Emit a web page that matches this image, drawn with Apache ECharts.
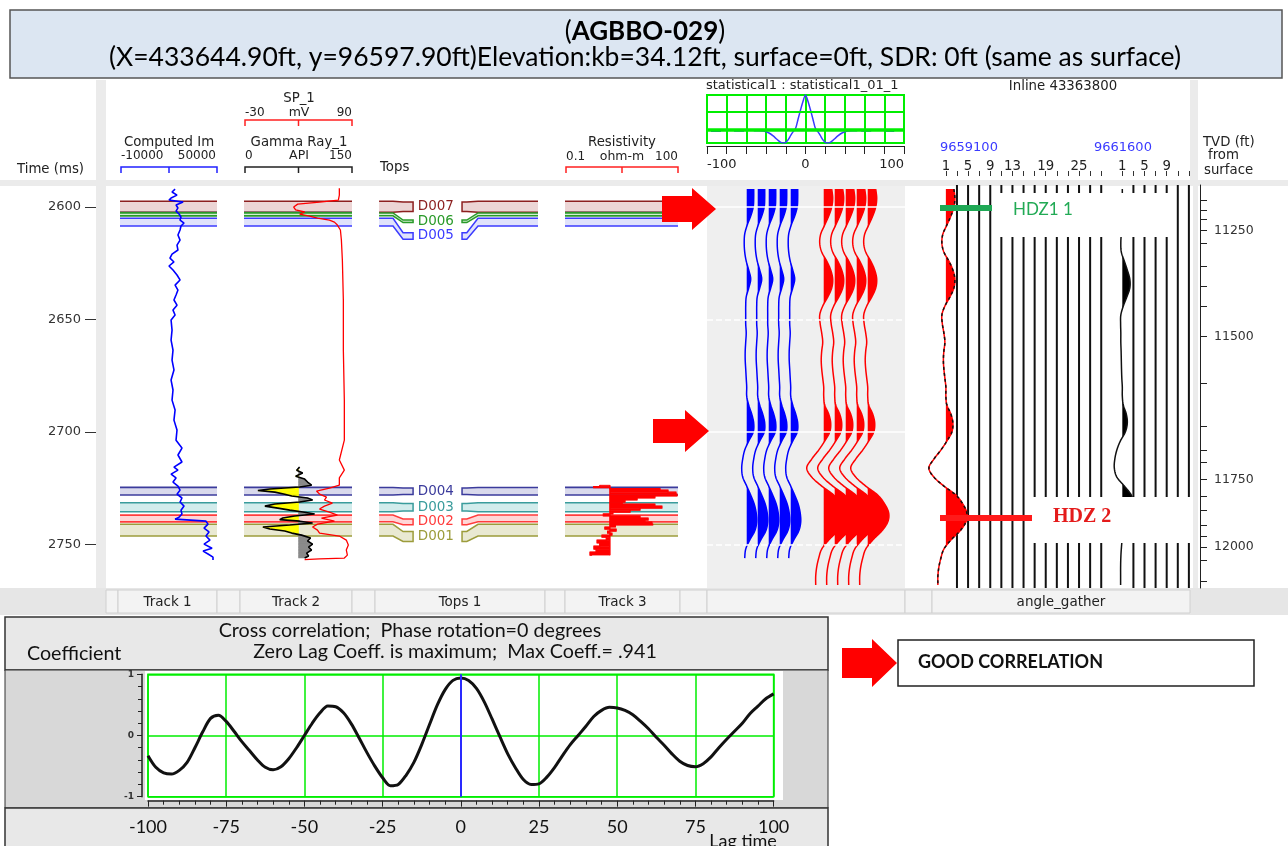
<!DOCTYPE html>
<html><head><meta charset="utf-8">
<script src="https://cdn.jsdelivr.net/npm/echarts@6.0.0/dist/echarts.min.js"></script>
<style>html,body{margin:0;padding:0;background:#fff;}#chart{width:1288px;height:846px;}</style>
</head><body><div id="chart"></div>
<script>
// ================= DATA =================
const timeLabels = [2600, 2650, 2700, 2750];

const tvdDepth = [11100,11150,11200,11250,11300,11350,11400,11450,11500,11550,11600,11650,11700,11750,11800,11850,11900,11950,12000,12050,12100];
const tvdTime  = [2596.9,2601.3,2605.5,2610.5,2616.1,2626.2,2635.4,2643.9,2657.6,2678.4,2697.6,2708.0,2713.2,2721.0,2728.4,2734.7,2741.6,2746.1,2751.0,2756.9,2766.5];

const topsNames = ['D007','D006','D005','D004','D003','D002','D001'];
const topsTop   = [2597.4,2602.6,2605.0,2724.6,2731.4,2736.9,2741.0];
const topsBase  = [2602.3,2603.9,2608.4,2728.0,2735.4,2739.9,2746.2];

const impTime = [2592.0,2593.3,2594.7,2596.0,2596.9,2597.8,2598.2,2599.1,2600.4,2601.8,
  2603.1,2604.4,2605.8,2607.1,2608.4,2610.2,2612.4,2614.7,2616.9,2619.1,
  2620.9,2622.7,2624.4,2626.2,2628.0,2630.2,2632.4,2634.7,2636.9,2639.1,
  2641.3,2643.6,2645.8,2648.0,2650.2,2654.7,2659.1,2663.6,2668.0,2672.4,
  2676.9,2681.3,2685.8,2690.2,2694.7,2699.1,2703.6,2707.1,2710.2,
  2713.3,2715.6,2716.9,2718.7,2720.4,2722.2,2724.0,2725.8,2727.6,2729.3,
  2731.1,2732.9,2734.7,2736.4,2737.8,2738.7,2739.1,2739.6,2740.9,2742.7,
  2744.4,2746.2,2748.0,2749.8,2751.6,2752.9,2754.2,2755.6,2756.9];
const impVal = [23800,21900,25000,21300,20000,28800,30000,24400,25600,24400,
  26300,27500,26900,29400,27500,26900,25600,26900,25000,25600,
  21900,20600,23100,20000,22500,25000,26900,23800,25600,24400,
  23100,25000,22500,23800,21300,21900,21300,22500,21900,23100,
  21300,22500,21900,23800,23100,25000,24400,28100,25600,
  28100,23100,25600,21300,24400,22500,25600,26900,25000,28100,
  26900,29400,27500,28100,26300,23800,24400,43100,44400,41900,
  45000,43100,45600,41900,46900,41300,44400,47500,47500];

const spTime = [2591.6,2594.7,2596.9,2597.8,2598.7,2600.0,2601.3,2602.2,2603.1,2604.0,
  2604.9,2605.8,2606.7,2608.0,2610.2,2614.7,2623.6,2641.3,2663.6,2685.8,
  2703.6,2712.4,2716.9,2720.4,2723.6,2724.9,2726.2,2727.6,2728.9,2730.2,
  2731.6,2732.9,2734.2,2735.6,2736.9,2738.2,2739.6,2740.9,2742.2,2743.6,
  2744.9,2746.2,2748.0,2750.2,2752.4,2754.7,2756.0,2756.4,2756.7];
const spVal = [75.8,75.8,74.7,53.6,29.1,24.6,26.8,36.9,31.3,42.4,
  51.3,64.7,70.3,73.6,77,78.1,79.2,80.3,80.3,81.4,
  81.4,75.8,81.4,75.8,75.8,64.7,50.2,53.6,61.4,59.1,
  68,59.1,53.6,64.7,73.6,55.8,70.3,51.3,45.8,51.3,
  53.6,75.8,83.6,85.9,83.6,84.8,81.4,53.6,36.9];

const grTime = [2715.6,2717.0,2718.2,2719.6,2720.9,2722.2,2723.6,2724.4,2725.3,2726.0,
  2726.7,2727.6,2728.4,2729.3,2730.2,2731.1,2732.0,2732.9,2733.8,2734.7,
  2735.6,2736.4,2737.3,2738.2,2738.9,2739.6,2740.4,2741.3,2742.2,2743.1,
  2744.0,2744.9,2745.8,2747.1,2748.4,2749.8,2751.1,2752.4,2753.8,2755.1,2756.0];
const grVal = [76.6,72.4,80.8,71,83.6,87.7,93.3,76.6,34.8,18.1,
  41.8,55.7,65.5,87.7,94.7,76.6,41.8,27.9,46,62.7,
  83.6,97.5,69.6,52.9,48.7,76.6,94.7,62.7,25.1,34.8,
  55.7,65.5,79.4,91.9,87.7,94.7,89.1,93.3,86.4,89.1,83.6];
const grShaleBase = 75;

const resTime = [2723.6,2724.2,2724.7,2725.1,2725.8,2726.7,2727.6,2728.4,2729.3,2730.2,
  2731.1,2732.0,2732.9,2733.8,2734.7,2735.6,2736.4,2737.3,2738.2,2739.1,
  2740.0,2740.9,2741.3,2742.2,2743.1,2744.0,2744.9,2745.8,2746.7,2748.0,
  2749.3,2750.7,2752.0,2753.3,2754.7];
const resVal = [0.8,0.55,1.5,33,54,88,94,24,8,3.8,
  3.2,24,37,9.6,5.2,1.8,1.0,9.6,15.8,13,
  20,21,2.1,1.1,2.2,1.3,1.7,0.92,1.2,0.68,
  0.8,0.56,0.64,0.44,0.5];
const resBase = 1.5;

const seisTime = [2592,2596,2600,2604,2608,2612,2616,2620,2624,2628,2632,2636,2640,2644,2648,
  2652,2656,2660,2664,2668,2672,2676,2680,2684,2688,2692,2696,2700,2704,2708,
  2712,2716,2720,2724,2728,2732,2736,2740,2744,2748,2752,2756,2760,2764,2768];
const synthAmp = [0.7,0.7,0.65,0.4,0.05,-0.2,-0.25,-0.2,-0.05,0.2,
  0.4,0.2,-0.05,-0.1,-0.1,-0.1,-0.05,-0.1,-0.15,-0.15,
  -0.1,-0.05,0,0,0.2,0.5,0.7,0.65,0.2,-0.2,
  -0.4,-0.5,-0.4,0,0.4,0.75,0.95,1.0,0.8,0.3,
  -0.1,-0.2,null,null,null];
const seisAmp = [0.8,0.9,0.8,0.5,0.1,-0.3,-0.4,-0.2,0.3,0.7,
  0.9,0.8,0.4,-0.1,-0.4,-0.35,-0.2,-0.1,-0.2,-0.25,
  -0.2,-0.1,0,0,0.1,0.5,0.7,0.6,0.1,-0.5,
  -1.2,-1.7,-1.2,-0.2,1.0,1.7,2.1,2.0,1.4,0.5,
  -0.2,-0.5,-0.7,-0.8,-0.8];
const gatherAmp = [0,0,0,0,0,-0.1,-0.15,-0.1,0.2,0.5,
  0.75,0.75,0.45,0.1,-0.15,-0.17,-0.15,-0.15,-0.12,-0.1,
  -0.08,-0.05,0,0,0.1,0.4,0.5,0.3,-0.2,-0.55,
  -0.75,-0.8,-0.55,0.2,0.9,1.1,1.0,0.7,0.3,0,
  -0.1,-0.15,-0.17,-0.17,-0.17];
const synthTraces = [1,2,3,4,5];
const seisTraces = [8,9,10,11,12];
const gather1Flat = [3,5,7,9,11,13,15,17,19,21,23,25,27,29];
const gather2Flat = [3,5,7,9,11,13];
const gather1Labels = [1,5,9,13,19,25];
const gather2Labels = [1,5,9];

const waveLag = [-52.5,-47.5,-42.5,-37.5,-32.5,-30,-27.5,-25,-22.5,-20,-17.5,-15,-12.5,-10,-7.5,-5,-2.5,0,
  2.5,5,7.5,10,12.5,15,17.5,20,22.5,25,27.5,30,32.5,37.5,42.5,47.5,52.5];
const waveAmp = [-0.04,-0.04,-0.05,-0.1,-0.2,-0.27,-0.33,-0.38,-0.4,-0.38,-0.3,-0.18,-0.07,0.03,0.3,0.57,0.82,1.0,
  0.82,0.57,0.3,0.03,-0.07,-0.18,-0.3,-0.38,-0.4,-0.38,-0.33,-0.27,-0.2,-0.1,-0.05,-0.04,-0.04];
const waveTailLag = [-100,-52.5,52.5,100];
const waveTailAmp = [-0.05,-0.04,-0.04,-0.05];

const ccLag = [-100,-97.5,-95,-92.5,-90,-87.5,-85,-82.5,-80,-77.5,-75,-72.5,-70,-67.5,-65,-62.5,-60,-57.5,-55,-52.5,
  -50,-47.5,-45,-42.5,-40,-37.5,-35,-32.5,-30,-27.5,-25,-22.5,-20,-17.5,-15,-12.5,-10,-7.5,-5,-2.5,
  0,2.5,5,7.5,10,12.5,15,17.5,20,22.5,25,27.5,30,32.5,35,37.5,40,42.5,45,47.5,
  50,52.5,55,57.5,60,62.5,65,67.5,70,72.5,75,77.5,80,82.5,85,87.5,90,92.5,95,97.5,100];
const ccVal = [-0.33,-0.52,-0.61,-0.63,-0.57,-0.44,-0.2,0.06,0.28,0.33,0.23,0.07,-0.1,-0.25,-0.4,-0.52,-0.56,-0.51,-0.38,-0.2,
  0.0,0.2,0.37,0.48,0.47,0.37,0.19,-0.04,-0.28,-0.5,-0.69,-0.82,-0.8,-0.65,-0.44,-0.15,0.18,0.5,0.75,0.9,
  0.94,0.9,0.77,0.55,0.27,-0.02,-0.3,-0.53,-0.72,-0.8,-0.79,-0.68,-0.52,-0.33,-0.15,0.0,0.15,0.31,0.41,0.46,
  0.45,0.41,0.34,0.23,0.11,-0.03,-0.16,-0.3,-0.42,-0.49,-0.51,-0.46,-0.35,-0.2,-0.06,0.07,0.2,0.36,0.48,0.6,0.68];

// ================= STYLE / LAYOUT =================
const T_MIN = 2590.2, T_MAX = 2769.3;
const FS = '"DejaVu Sans", Verdana, sans-serif';
const FL = 'Lato, "Open Sans", sans-serif';
const HF = 13.3, NF = 12;
const topsLine = ['#8c1f1f','#2a9a2a','#3b3bff','#3b3b9c','#3a9c9c','#ff3c3c','#9c9c3b'];
const topsFill = ['#ecd5d5','#d3edd3','#e0e2fb','#d9d9ec','#d2ecec','#ffd6d6','#e9e9d2'];
const GATHER2_OFFSET = 31.8;
const SEIS_GAIN = 0.909, GATHER_GAIN = 1.8;

const topsLabelT = [];
topsNames.forEach((n,i)=>{
  const c = (topsTop[i]+topsBase[i])/2;
  const prev = i>0 && (topsTop[i]-topsBase[i-1] < 30) ? topsLabelT[i-1] + 6.5 : -Infinity;
  topsLabelT.push(Math.max(c, prev));
});

function cr(p0,p1,p2,p3,u){const u2=u*u,u3=u2*u;return 0.5*((2*p1)+(-p0+p2)*u+(2*p0-5*p1+4*p2-p3)*u2+(-p0+3*p1-3*p2+p3)*u3);}

function wiggleRender(times, amps, gain, lineColor, fillColor, lw, overlayDash){
  return function(params, api){
    const base = api.value(0);
    const P = [];
    for (let i=0;i<times.length;i++){ if (amps[i]!=null) P.push([times[i], amps[i]]); }
    const D = [];
    for (let i=0;i<P.length-1;i++){
      const p0=P[Math.max(i-1,0)],p1=P[i],p2=P[i+1],p3=P[Math.min(i+2,P.length-1)];
      for (let s=0;s<8;s++){const u=s/8; D.push([cr(p0[0],p1[0],p2[0],p3[0],u), cr(p0[1],p1[1],p2[1],p3[1],u)]);}
    }
    D.push(P[P.length-1]);
    const XY = D.map(d=>api.coord([base + d[1]*gain, d[0]]));
    const bx = api.coord([base, D[0][0]])[0];
    const ch = [];
    let poly = null;
    for (let i=0;i<D.length;i++){
      const a = D[i][1];
      if (a>0){
        if (!poly){
          poly=[];
          if (i>0){const a0=D[i-1][1];const f=a0/(a0-a);poly.push([bx, XY[i-1][1]+(XY[i][1]-XY[i-1][1])*f]);}
          else poly.push([bx, XY[i][1]]);
        }
        poly.push(XY[i]);
      } else if (poly){
        const a0=D[i-1][1];const f=a0/(a0-a);poly.push([bx, XY[i-1][1]+(XY[i][1]-XY[i-1][1])*f]);
        ch.push({type:'polygon', shape:{points:poly}, style:{fill:fillColor}});
        poly=null;
      }
    }
    if (poly){poly.push([bx, XY[XY.length-1][1]]); ch.push({type:'polygon', shape:{points:poly}, style:{fill:fillColor}});}
    ch.push({type:'polyline', shape:{points:XY}, style:{stroke:lineColor, lineWidth:lw, fill:'none'}});
    if (overlayDash) ch.push({type:'polyline', shape:{points:XY}, style:{stroke:'#111', lineWidth:lw, fill:'none', lineDash:[3,3]}});
    return {type:'group', children:ch};
  };
}

function fillRender(times, vals, base, colL, colR, step, lineColor, lw, baseLine){
  return function(params, api){
    const ch = [];
    const n = times.length;
    const P = times.map((t,i)=>api.coord([vals[i], t]));
    const bx = api.coord([base, times[0]])[0];
    const poly = (pts,c)=>({type:'polygon', shape:{points:pts}, style:{fill:c, stroke:c, lineWidth:0.5}});
    for (let i=0;i<n-1;i++){
      const a=vals[i]-base, b=vals[i+1]-base;
      if (step){
        const y1=P[i][1], y2=P[i+1][1];
        ch.push(poly([[bx,y1],[P[i][0],y1],[P[i][0],y2],[bx,y2]], a<0?colL:colR));
      } else if (a*b>=0){
        ch.push(poly([[bx,P[i][1]],P[i],P[i+1],[bx,P[i+1][1]]], (a+b)<0?colL:colR));
      } else {
        const f=a/(a-b); const yc=P[i][1]+(P[i+1][1]-P[i][1])*f;
        ch.push(poly([[bx,P[i][1]],P[i],[bx,yc]], a<0?colL:colR));
        ch.push(poly([[bx,yc],P[i+1],[bx,P[i+1][1]]], b<0?colL:colR));
      }
    }
    if (baseLine) ch.push({type:'line', shape:{x1:bx,y1:P[0][1],x2:bx,y2:P[n-1][1]}, style:{stroke:lineColor, lineWidth:1.2}});
    if (step){
      const pts=[];
      for (let i=0;i<n-1;i++){pts.push([P[i][0],P[i][1]]); pts.push([P[i][0],P[i+1][1]]);}
      pts.push(P[n-1]);
      ch.push({type:'polyline', shape:{points:pts}, style:{stroke:lineColor, lineWidth:lw, fill:'none'}});
    }
    return {type:'group', children:ch};
  };
}

function bandsRender(params, api){
  const i = api.value(3), cs = params.coordSys;
  const y1 = api.coord([api.value(0), api.value(1)])[1];
  const y2 = api.coord([api.value(0), api.value(2)])[1];
  return {type:'group', children:[
    {type:'rect', shape:{x:cs.x-1, y:y1, width:cs.width+1, height:y2-y1}, style:{fill:topsFill[i]}},
    {type:'line', shape:{x1:cs.x-1,y1:y1,x2:cs.x+cs.width,y2:y1}, style:{stroke:topsLine[i], lineWidth:1.6}},
    {type:'line', shape:{x1:cs.x-1,y1:y2,x2:cs.x+cs.width,y2:y2}, style:{stroke:i===0?'#3a1010':topsLine[i], lineWidth:1.6}}
  ]};
}

function topsTrackRender(params, api){
  const i = api.value(3), cs = params.coordSys;
  const y1 = api.coord([0.5, api.value(1)])[1];
  const y2 = api.coord([0.5, api.value(2)])[1];
  const yl = api.coord([0.5, topsLabelT[i]])[1];
  const hh = (y2-y1)*0.85/2;
  const X = f=>cs.x + cs.width*f;
  const x0=X(0.024),xb1=X(0.106),xb2=X(0.165),x3=X(0.224),x4=X(0.512),xb3=X(0.54),xb4=X(0.606),x5=X(0.959);
  const L = [[x0,y1],[xb1,y1],[xb2,yl-hh],[x3,yl-hh],[x3,yl+hh],[xb2,yl+hh],[xb1,y2],[x0,y2]];
  const R = [[x5,y1],[xb4,y1],[xb3,yl-hh],[x4,yl-hh],[x4,yl+hh],[xb3,yl+hh],[xb4,y2],[x5,y2]];
  const c = topsLine[i], f = topsFill[i];
  return {type:'group', children:[
    {type:'polygon', shape:{points:L}, style:{fill:f}},
    {type:'polygon', shape:{points:R}, style:{fill:f}},
    {type:'polyline', shape:{points:L}, style:{stroke:c, lineWidth:1.5, fill:'none'}},
    {type:'polyline', shape:{points:R}, style:{stroke:c, lineWidth:1.5, fill:'none'}},
    {type:'text', x:X(0.358), y:yl, style:{text:topsNames[i], fill:c, fontFamily:FS, fontSize:13.5, align:'center', verticalAlign:'middle'}}
  ]};
}

function flatTraceRender(params, api){
  const cs = params.coordSys;
  const x = api.coord([api.value(0), T_MIN])[0];
  return {type:'line', shape:{x1:x,y1:cs.y,x2:x,y2:cs.y+cs.height}, style:{stroke:'#111', lineWidth:2}};
}

// ================= AXES =================
const tA = (gi, extra)=>Object.assign({gridIndex:gi, type:'value', inverse:true, min:T_MIN, max:T_MAX, show:false, splitLine:{show:false}}, extra||{});
const hid = (gi, extra)=>Object.assign({gridIndex:gi, type:'value', show:false, splitLine:{show:false}}, extra||{});
const TH = {top:185, height:403};

const grid = [
  Object.assign({left:96, width:2}, TH),
  Object.assign({left:121, width:96}, TH),
  Object.assign({left:245, width:107}, TH),
  Object.assign({left:375, width:170}, TH),
  Object.assign({left:566, width:112}, TH),
  Object.assign({left:707, width:198}, TH),
  Object.assign({left:932, width:258}, TH),
  Object.assign({left:1200, width:2}, TH),
  {left:707, top:95, width:197, height:48, show:true, backgroundColor:'#fff', borderColor:'#00ee00', borderWidth:2},
  {left:148, top:674.3, width:625.6, height:122.4, show:true, backgroundColor:'rgba(0,0,0,0)', borderColor:'#00ee00', borderWidth:1.5}
];

const tvdLabelTimes = tvdTime.filter((t,i)=>tvdDepth[i]%250===0);
const gTicks = [1].concat(gather1Flat, [1].concat(gather2Flat).map(v=>v+GATHER2_OFFSET));
const gLabels = gather1Labels.concat(gather2Labels.map(v=>v+GATHER2_OFFSET));

const xAxis = [
  hid(0,{min:0,max:1}),
  hid(1,{min:-10000,max:50000}),
  hid(2,{min:0,max:150}),
  hid(2,{min:-30,max:90}),
  hid(3,{min:0,max:1}),
  {gridIndex:4, type:'log', logBase:10, min:0.1, max:100, show:false, splitLine:{show:false}},
  hid(5,{min:-2.61,max:15.39}),
  {gridIndex:6, type:'value', min:-1.5, max:45, position:'top', offset:9, show:true,
    axisLine:{show:false, onZero:false}, splitLine:{show:false},
    axisTick:{show:true, customValues:gTicks, length:5, lineStyle:{color:'#333', width:1}},
    axisLabel:{show:true, customValues:gLabels, margin:3, fontSize:HF, fontFamily:FS, color:'#222',
      formatter:v=>String(v>GATHER2_OFFSET-1?Math.round(v-GATHER2_OFFSET):Math.round(v))}},
  hid(7,{min:0,max:1}),
  {gridIndex:8, type:'value', min:-100, max:100, interval:20, position:'bottom', offset:3,
    axisLine:{show:true, onZero:false, lineStyle:{color:'#222', width:1}},
    axisTick:{show:true, length:8, lineStyle:{color:'#222'}},
    axisLabel:{formatter:v=>(v%100===0?String(v):''), alignMinLabel:'left', alignMaxLabel:'right', fontSize:13, fontFamily:FS, color:'#222', margin:12},
    splitLine:{show:true, lineStyle:{color:'#00ee00', width:2}}},
  {gridIndex:9, type:'value', min:-100, max:100, interval:25, position:'bottom', offset:4,
    axisLine:{show:true, onZero:false, lineStyle:{color:'#222', width:1.5}},
    axisTick:{show:true, length:6, lineStyle:{color:'#222'}},
    minorTick:{show:true, splitNumber:5, length:4, lineStyle:{color:'#222'}},
    axisLabel:{fontSize:18, fontFamily:FL, color:'#111', margin:17},
    splitLine:{show:true, lineStyle:{color:'#00ee00', width:1.5}}}
];

const yAxis = [
  tA(0,{show:true, position:'left', axisLine:{show:false, onZero:false},
    axisTick:{show:true, customValues:timeLabels, length:11, lineStyle:{color:'#333'}},
    axisLabel:{show:true, customValues:timeLabels, margin:15, fontSize:13, fontFamily:FS, color:'#333', formatter:v=>String(v)}}),
  tA(1), tA(2), tA(3), tA(4), tA(5), tA(6),
  tA(7,{show:true, position:'left', axisLine:{show:true, onZero:false, lineStyle:{color:'#222', width:1}},
    axisTick:{show:true, inside:true, customValues:tvdTime, length:7, lineStyle:{color:'#222'}},
    axisLabel:{show:true, inside:true, customValues:tvdLabelTimes, margin:14, fontSize:12.5, fontFamily:FS, color:'#333',
      formatter:v=>{const k=tvdTime.findIndex(t=>Math.abs(t-v)<0.05);return k>=0?String(tvdDepth[k]):'';}}}),
  {gridIndex:8, type:'value', min:-0.4, max:1, show:false, splitLine:{show:false}},
  {gridIndex:9, type:'value', min:-1, max:1, interval:1, offset:6,
    axisLine:{show:true, onZero:false, lineStyle:{color:'#222', width:1.5}},
    axisTick:{show:true, length:5, lineStyle:{color:'#222'}},
    minorTick:{show:true, splitNumber:5, length:4, lineStyle:{color:'#222'}},
    axisLabel:{fontSize:9, fontWeight:'bold', fontFamily:FS, color:'#333', margin:8},
    splitLine:{show:true, lineStyle:{color:'#00ee00', width:1.5}}}
];

// ================= SERIES =================
const topData = x=>topsNames.map((n,i)=>[x, topsTop[i], topsBase[i], i]);
const series = [
  {type:'custom', xAxisIndex:1, yAxisIndex:1, renderItem:bandsRender, data:topData(20000), z:1},
  {type:'custom', xAxisIndex:2, yAxisIndex:2, renderItem:bandsRender, data:topData(75), z:1},
  {type:'custom', xAxisIndex:5, yAxisIndex:4, renderItem:bandsRender, data:topData(1), z:1},
  {type:'custom', xAxisIndex:4, yAxisIndex:3, renderItem:topsTrackRender, data:topData(0.5), z:1},
  {type:'line', xAxisIndex:1, yAxisIndex:1, data:impTime.map((t,i)=>[impVal[i], t]), symbol:'none', lineStyle:{color:'#0000ff', width:1.6}, z:3},
  {type:'custom', xAxisIndex:2, yAxisIndex:2, renderItem:fillRender(grTime, grVal, grShaleBase, '#ffff00', '#8a8a8a', false), data:[[grShaleBase, grTime[0]]], z:2},
  {type:'line', xAxisIndex:2, yAxisIndex:2, data:grTime.map((t,i)=>[grVal[i], t]), symbol:'none', lineStyle:{color:'#000', width:1.6}, z:3},
  {type:'line', xAxisIndex:3, yAxisIndex:2, data:spTime.map((t,i)=>[spVal[i], t]), symbol:'none', lineStyle:{color:'#ff0000', width:1.3}, z:3},
  {type:'custom', xAxisIndex:5, yAxisIndex:4, renderItem:fillRender(resTime, resVal, resBase, '#ff0000', '#ff0000', true, '#ff0000', 1.2, true), data:[[resBase, resTime[0]]], z:3},
  {type:'line', xAxisIndex:6, yAxisIndex:5, data:[], z:1, silent:true,
    markLine:{symbol:'none', silent:true, label:{show:false}, animation:false,
      lineStyle:{color:'#ffffff', width:1.5, type:'solid'},
      data:[{yAxis:2600},{yAxis:2700},{yAxis:2650, lineStyle:{type:'dashed', color:'#ffffff', width:1.5}},{yAxis:2750, lineStyle:{type:'dashed', color:'#ffffff', width:1.5}}]}},
  {type:'custom', xAxisIndex:6, yAxisIndex:5, renderItem:wiggleRender(seisTime, synthAmp, SEIS_GAIN, '#0000ff', '#0000ff', 1.5), data:synthTraces.map(v=>[v, T_MIN]), z:3},
  {type:'custom', xAxisIndex:6, yAxisIndex:5, renderItem:wiggleRender(seisTime, seisAmp, SEIS_GAIN, '#ff0000', '#ff0000', 1.5), data:seisTraces.map(v=>[v, T_MIN]), z:3},
  {type:'custom', xAxisIndex:7, yAxisIndex:6, renderItem:flatTraceRender, data:gather1Flat.concat(gather2Flat.map(v=>v+GATHER2_OFFSET)).map(v=>[v, T_MIN]), z:2},
  {type:'custom', xAxisIndex:7, yAxisIndex:6, renderItem:wiggleRender(seisTime, seisAmp, GATHER_GAIN, '#ff0000', '#ff0000', 1.5, true), data:[[1, T_MIN]], z:3},
  {type:'custom', xAxisIndex:7, yAxisIndex:6, renderItem:wiggleRender(seisTime, gatherAmp, GATHER_GAIN, '#111', '#000', 1.5), data:[[1+GATHER2_OFFSET, T_MIN]], z:3},
  {type:'line', xAxisIndex:9, yAxisIndex:8, data:waveLag.map((l,i)=>[l, waveAmp[i]]), symbol:'none', smooth:0.3, lineStyle:{color:'#3a3aff', width:1.5}, z:4,
    markLine:{symbol:'none', silent:true, label:{show:false}, animation:false, data:[
      {yAxis:0, lineStyle:{color:'#00ee00', width:3.5, type:'solid'}},
      {yAxis:0.5, lineStyle:{color:'#00ee00', width:2, type:'solid'}}]}},
  {type:'line', xAxisIndex:9, yAxisIndex:8, data:[[waveTailLag[0],waveTailAmp[0]],[waveTailLag[1],waveTailAmp[1]]], symbol:'none', lineStyle:{color:'#3a3aff', width:2, type:[10,13], dashOffset:-4}, z:4},
  {type:'line', xAxisIndex:9, yAxisIndex:8, data:[[waveTailLag[2],waveTailAmp[2]],[waveTailLag[3],waveTailAmp[3]]], symbol:'none', lineStyle:{color:'#3a3aff', width:2, type:[10,13], dashOffset:-4}, z:4},
  {type:'line', xAxisIndex:10, yAxisIndex:9, data:ccLag.map((l,i)=>[l, ccVal[i]]), symbol:'none', smooth:0.3, lineStyle:{color:'#111', width:3}, z:4,
    markLine:{symbol:'none', silent:true, label:{show:false}, animation:false, lineStyle:{color:'#2a2aff', width:2, type:'solid'}, data:[{xAxis:0}]}}
];

// ================= GRAPHICS =================
const G = [];
const rect = (x,y,w,h,fill,stroke,lw,z)=>({type:'rect', z:z, shape:{x,y,width:w,height:h}, style:{fill:fill, stroke:stroke||null, lineWidth:lw||0}});
const text = (x,y,s,o,z)=>({type:'text', x, y, z:z==null?5:z, style:Object.assign({text:s, fontFamily:FS, fontSize:HF, fill:'#222', align:'left', verticalAlign:'middle'}, o||{})});
const bracket = (x1,x2,y,c)=>{const xm=(x1+x2)/2;return [
  {type:'polyline', z:5, shape:{points:[[x1,y+6],[x1,y],[x2,y],[x2,y+6]]}, style:{stroke:c, lineWidth:1.5, fill:'none'}},
  {type:'line', z:5, shape:{x1:xm,y1:y,x2:xm,y2:y+6}, style:{stroke:c, lineWidth:1.5}}];};
const num = {fontSize:NF};

G.push(rect(10,10,1272,68,'#dce6f2','#555',1.5,-10));
G.push({type:'text', x:645, y:32, z:5, style:{text:'({b|AGBBO-029})', rich:{b:{fontWeight:'bold', fontFamily:FL, fontSize:26, fill:'#000'}}, fontFamily:FL, fontSize:26, fill:'#000', align:'center', verticalAlign:'middle'}});
G.push(text(645,57,'(X=433644.90ft, y=96597.90ft)Elevation:kb=34.12ft, surface=0ft, SDR: 0ft (same as surface)', {fontFamily:FL, fontSize:26.5, fill:'#000', align:'center'}));

G.push(rect(0,80,1288,535,'#ebebeb',null,0,-10));
[[0,80,96,100],[106,80,1084,100],[1198,80,90,100],[0,186,96,402],[106,186,601,402],[905,186,288,402],[1198,186,90,402]].forEach(r=>G.push(rect(r[0],r[1],r[2],r[3],'#ffffff',null,0,-9)));
G.push(rect(707,186,198,402,'#efefef',null,0,-9));
G.push(rect(0,588,1288,27,'#e6e6e6',null,0,-9));
[[106,118,''],[118,217,'Track 1'],[217,240,''],[240,352,'Track 2'],[352,375,''],[375,545,'Tops 1'],[545,565,''],[565,680,'Track 3'],[680,707,''],[707,905,''],[905,932,''],[932,1190,'angle_gather']].forEach(c=>{
  G.push(rect(c[0],590,c[1]-c[0],23,'#f3f3f3','#d0d0d0',1,-8));
  if (c[2]) G.push(text((c[0]+c[1])/2,602,c[2],{align:'center', fontSize:13.5}));
});

G.push(text(17,170,'Time (ms)'));
G.push(text(169,143,'Computed Im',{align:'center'}));
G.push(text(121,156,'-10000',num)); G.push(text(216,156,'50000',Object.assign({align:'right'},num)));
G.push(...bracket(121,217,167,'#2020ff'));
G.push(text(299,99,'SP_1',{align:'center'}));
G.push(text(245,113,'-30',num)); G.push(text(299,113,'mV',{align:'center', fontSize:12.5})); G.push(text(352,113,'90',Object.assign({align:'right'},num)));
G.push(...bracket(245,352,120,'#ff2020'));
G.push(text(299,143,'Gamma Ray_1',{align:'center'}));
G.push(text(245,156,'0',num)); G.push(text(299,156,'API',{align:'center', fontSize:12.5})); G.push(text(352,156,'150',Object.assign({align:'right'},num)));
G.push(...bracket(245,352,167,'#222'));
G.push(text(380,168,'Tops'));
G.push(text(622,143,'Resistivity',{align:'center'}));
G.push(text(566,157,'0.1',num)); G.push(text(622,157,'ohm-m',{align:'center', fontSize:12.5})); G.push(text(678,157,'100',Object.assign({align:'right'},num)));
G.push(...bracket(566,678,167,'#ff2020'));
G.push(text(706,86,'statistical1 : statistical1_01_15',{fontSize:13, width:198, overflow:'truncate', ellipsis:''}));
G.push(text(1063,87,'Inline 43363800',{align:'center'}));
G.push(text(940,148,'9659100',{fill:'#3a3aff', fontSize:13}));
G.push(text(1094,148,'9661600',{fill:'#3a3aff', fontSize:13}));
G.push(text(1203,143,'TVD (ft)')); G.push(text(1208,156,'from')); G.push(text(1204,171,'surface'));

const red='#ff0000';
G.push({type:'polygon', z:60, shape:{points:[[662,196],[692,196],[692,188],[716,209],[692,230],[692,222],[662,222]]}, style:{fill:red}});
G.push({type:'polygon', z:60, shape:{points:[[653,419],[685,419],[685,410],[709,431],[685,452],[685,443],[653,443]]}, style:{fill:red}});
G.push({type:'polygon', z:60, shape:{points:[[842,648],[872,648],[872,639],[897,663],[872,687],[872,678],[842,678]]}, style:{fill:red}});
G.push(rect(995,193,181,44,'#ffffff',null,0,50));
G.push(rect(1031,497,162,46,'#ffffff',null,0,50));
G.push(rect(940,205,52,6,'#1fa855',null,0,60));
G.push(text(1013,210,'HDZ1 1',{fontFamily:FL, fontSize:17, fill:'#22aa55'},60));
G.push(rect(940,515,92,6,'#ff1a1a',null,0,60));
G.push(text(1053,517,'HDZ 2',{fontFamily:'"Liberation Serif","DejaVu Serif",serif', fontWeight:'bold', fontSize:20, fill:'#e41b1b'},60));
G.push(rect(898,640,356,46,'#ffffff','#222',1.5,5));
G.push(text(918,662,'GOOD CORRELATION',{fontFamily:FL, fontWeight:'bold', fontSize:18, fill:'#111'},6));

G.push(rect(5,617,823,53,'#e8e8e8','#333',1.5,-10));
G.push(rect(5,670,823,138,'#d8d8d8','#333',1,-10));
G.push(rect(145,671,638,129,'#ffffff',null,0,-9));
G.push(rect(5,808,823,40,'#e8e8e8','#333',1.5,-10));
G.push(text(410,631,'Cross correlation;  Phase rotation=0 degrees',{fontFamily:FL, fontSize:19.7, fill:'#111', align:'center'}));
G.push(text(455,652,'Zero Lag Coeff. is maximum;  Max Coeff.= .941',{fontFamily:FL, fontSize:19.7, fill:'#111', align:'center'}));
G.push(text(27,654,'Coefficient',{fontFamily:FL, fontSize:19.7, fill:'#111'}));
G.push(text(743,841,'Lag time',{fontFamily:FL, fontSize:18, fill:'#111', align:'center'}));

const chart = echarts.init(document.getElementById('chart'), null, {renderer:'canvas', width:1288, height:846});
chart.setOption({
  animation:false,
  backgroundColor:'#ffffff',
  grid, xAxis, yAxis, series,
  graphic:{elements:G}
});
</script>
</body></html>
